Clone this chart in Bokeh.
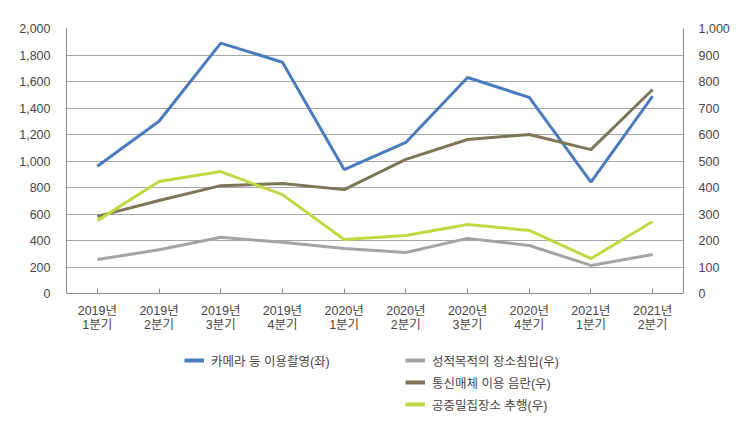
from bokeh.plotting import figure
from bokeh.layouts import column
from bokeh.models import (Range1d, LinearAxis, FixedTicker, NumeralTickFormatter,
                          Legend, LegendItem, FactorRange)
from bokeh.embed import file_html
from bokeh.resources import INLINE

quarters = ["2019년\n1분기", "2019년\n2분기", "2019년\n3분기", "2019년\n4분기",
            "2020년\n1분기", "2020년\n2분기", "2020년\n3분기", "2020년\n4분기",
            "2021년\n1분기", "2021년\n2분기"]
camera = [960, 1300, 1890, 1745, 935, 1140, 1630, 1480, 840, 1490]          # left axis
intrusion = [128, 165, 212, 193, 170, 155, 208, 181, 106, 147]             # right axis
telecom = [291, 351, 407, 415, 392, 506, 581, 600, 543, 770]                # right axis
crowded = [275, 423, 460, 373, 204, 219, 260, 238, 132, 272]                # right axis

names = ["카메라 등 이용촬영(좌)", "성적목적의 장소침입(우)", "통신매체 이용 음란(우)", "공중밀집장소 추행(우)"]
colors = ["#4a7bbd", "#a3a3a3", "#7b7657", "#c2d843"]

FONT = "'Liberation Sans', 'Noto Sans CJK KR', sans-serif"
TXT = "#4a4444"
GRID = "#a6a6a6"
AX = "#8c8c8c"
FS = "12.5px"

p = figure(width=743, height=343, output_backend="svg", toolbar_location=None,
           x_range=FactorRange(*quarters, range_padding=0),
           y_range=Range1d(0, 2000),
           min_border_left=66, min_border_right=60, min_border_top=28, min_border_bottom=50)
p.extra_y_ranges = {"right": Range1d(0, 1000)}
p.outline_line_color = None
p.background_fill_color = "white"
p.border_fill_color = "white"

p.xaxis.major_tick_in = 5
p.xaxis.major_tick_out = 0
p.xaxis.minor_tick_line_color = None
p.xaxis.axis_line_color = AX
p.xaxis.major_tick_line_color = AX
p.xaxis.major_label_text_font = FONT
p.xaxis.major_label_text_font_size = FS
p.xaxis.major_label_text_color = TXT
p.xaxis.major_label_text_line_height = 1.0
p.xaxis.major_label_standoff = 10

p.yaxis.ticker = FixedTicker(ticks=list(range(0, 2001, 200)))
p.yaxis.formatter = NumeralTickFormatter(format="0,0")
p.yaxis.major_tick_line_color = None
p.yaxis.minor_tick_line_color = None
p.yaxis.axis_line_color = AX
p.yaxis.major_label_text_font = FONT
p.yaxis.major_label_text_font_size = FS
p.yaxis.major_label_text_color = TXT
p.yaxis.major_label_standoff = 10

ry = LinearAxis(y_range_name="right", ticker=FixedTicker(ticks=list(range(0, 1001, 100))),
                formatter=NumeralTickFormatter(format="0,0"))
ry.major_tick_line_color = None
ry.minor_tick_line_color = None
ry.axis_line_color = AX
ry.major_label_text_font = FONT
ry.major_label_text_font_size = FS
ry.major_label_text_color = TXT
ry.major_label_standoff = 9
p.add_layout(ry, "right")

p.xgrid.grid_line_color = None
p.ygrid.grid_line_color = GRID
p.ygrid.grid_line_width = 1

p.line(quarters, camera, line_color=colors[0], line_width=3)
p.line(quarters, intrusion, line_color=colors[1], line_width=3, y_range_name="right")
p.line(quarters, telecom, line_color=colors[2], line_width=3, y_range_name="right")
p.line(quarters, crowded, line_color=colors[3], line_width=3, y_range_name="right")

# legend panel underneath the chart (its frame is aligned with the chart's frame)
q = figure(width=743, height=91, output_backend="svg", toolbar_location=None,
           x_range=Range1d(0, 1), y_range=Range1d(0, 1),
           min_border_left=0, min_border_right=0, min_border_top=0, min_border_bottom=0)
q.axis.visible = False
q.grid.visible = False
q.outline_line_color = None
# one-point lines draw nothing; they only give the legend its swatches
lr = [q.line([0], [0], line_color=c, line_width=4) for c in colors]

def make_legend(items, loc):
    return Legend(items=items, location=loc, orientation="vertical",
                  background_fill_alpha=0, border_line_color=None,
                  padding=0, margin=0, spacing=2,
                  glyph_width=20, glyph_height=20, label_height=20,
                  label_standoff=7,
                  label_text_font=FONT, label_text_font_size=FS,
                  label_text_color=TXT)

lg1 = make_legend([LegendItem(label=names[0], renderers=[lr[0]])], (118, 64))
lg2 = make_legend([LegendItem(label=names[i], renderers=[lr[i]]) for i in (1, 2, 3)], (339, 20))
q.add_layout(lg1, "center")
q.add_layout(lg2, "center")

open("out.html", "w").write(file_html(column(p, q, spacing=0), INLINE))
